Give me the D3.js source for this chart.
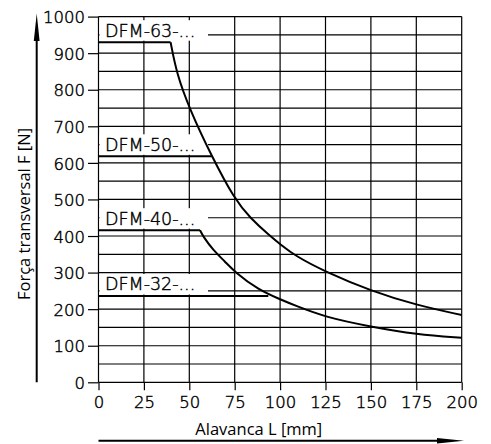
<!DOCTYPE html>
<html>
<head>
<meta charset="utf-8">
<script src="https://cdn.jsdelivr.net/npm/d3@7"></script>
<style>
  html, body { margin: 0; padding: 0; background: #fff; }
  svg { display: block; }
</style>
</head>
<body>
<svg id="chart" width="491" height="444"></svg>
<script>
// ---- data ----
const xTicks = [0, 25, 50, 75, 100, 125, 150, 175, 200];
const yTicks = [0, 100, 200, 300, 400, 500, 600, 700, 800, 900, 1000];
const yGrid = [0, 50, 100, 150, 200, 250, 300, 350, 400, 450, 500, 550, 600, 650, 700, 750, 800, 850, 900, 950, 1000];

const seriesNames = ["DFM-63-...", "DFM-50-...", "DFM-40-...", "DFM-32-..."];

const dfm63L = [0, 39.7, 43, 50, 62.3, 75, 83.4, 94.4, 100, 108.2, 125, 150, 175, 200];
const dfm63F = [930, 930, 845, 749, 618, 500, 450, 400, 378, 346, 302, 250, 211, 184];

const dfm50L = [0, 62.3];
const dfm50F = [618, 618];

const dfm40L = [0, 55.9, 57.7, 63.2, 69.7, 75, 88, 100, 108.2, 125, 150, 175, 200];
const dfm40F = [416, 416, 398, 361, 330, 302, 253, 227, 210, 178, 152, 131, 122];

const dfm32L = [0, 93.5];
const dfm32F = [236, 236];

const xTitle = "Alavanca L [mm]";
const yTitle = "Força transversal F [N]";

// ---- drawing ----
const svg = d3.select("#chart");
const x = d3.scaleLinear().domain([0, 200]).range([98.5, 461.7]);
const y = d3.scaleLinear().domain([0, 1000]).range([382.3, 16.6]);

const tickFont = "'DejaVu Sans', sans-serif";
const tickWeight = 200;
const titleFont = "'Open Sans', sans-serif";

function styleTick(sel, size) {
  sel.attr("font-family", tickFont).attr("font-weight", tickWeight)
    .attr("font-size", size).attr("fill", "#000")
    .attr("stroke", "#000").attr("stroke-width", 0.45);
}

// grid
const g = svg.append("g");
g.selectAll("line.h").data(yGrid).enter().append("line")
  .attr("x1", x(0)).attr("x2", x(200))
  .attr("y1", d => y(d)).attr("y2", d => y(d))
  .attr("stroke", "#000").attr("stroke-width", 1.2);
g.selectAll("line.v").data(xTicks).enter().append("line")
  .attr("y1", y(0)).attr("y2", y(1000))
  .attr("x1", d => x(d)).attr("x2", d => x(d))
  .attr("stroke", "#000").attr("stroke-width", 1.2);

// axes with outward ticks
const yAxis = d3.axisLeft(y).tickValues(yTicks).tickSize(10.5).tickPadding(3).tickFormat(d3.format("d"));
const ya = svg.append("g").attr("transform", `translate(${x(0)},0)`).call(yAxis);
ya.select(".domain").remove();
ya.selectAll("line").attr("stroke", "#000").attr("stroke-width", 1.2);
styleTick(ya.selectAll("text").attr("dy", null).attr("y", 6.2), 16.5);

const xAxis = d3.axisBottom(x).tickValues(xTicks).tickSize(8).tickPadding(0).tickFormat(d3.format("d"));
const xa = svg.append("g").attr("transform", `translate(0,${y(0)})`).call(xAxis);
xa.select(".domain").remove();
xa.selectAll("line").attr("stroke", "#000").attr("stroke-width", 1.2);
styleTick(xa.selectAll("text").attr("dy", null).attr("y", 26), 16.5);

// label boxes (white backgrounds hiding grid behind labels)
const caps = [dfm63F[0], dfm50F[0], dfm40F[0], dfm32F[0]];
svg.append("g").selectAll("rect").data(caps).enter().append("rect")
  .attr("x", x(0) + 1).attr("width", x(60.3) - x(0) - 1)
  .attr("y", d => y(d) - 22).attr("height", 20.5)
  .attr("fill", "#fff");

// curves
function drawSeries(L, F) {
  const pts = L.map((l, i) => [l, F[i]]);
  const lin = d3.line().x(d => x(d[0])).y(d => y(d[1]));
  svg.append("path").attr("d", lin(pts.slice(0, 2)))
    .attr("fill", "none").attr("stroke", "#000").attr("stroke-width", 2);
  if (pts.length > 2) {
    const cur = d3.line().x(d => x(d[0])).y(d => y(d[1])).curve(d3.curveBasis);
    svg.append("path").attr("d", cur(pts.slice(1)))
      .attr("fill", "none").attr("stroke", "#000").attr("stroke-width", 2);
  }
}
drawSeries(dfm63L, dfm63F);
drawSeries(dfm50L, dfm50F);
drawSeries(dfm40L, dfm40F);
drawSeries(dfm32L, dfm32F);

// series labels
styleTick(svg.append("g").selectAll("text").data(seriesNames).enter().append("text")
  .attr("x", x(0) + 6.5).attr("y", (d, i) => y(caps[i]) - 5.5)
  .text(d => d), 17.5);

// axis arrows
svg.append("line").attr("x1", 36.7).attr("x2", 36.7).attr("y1", y(0)).attr("y2", 38)
  .attr("stroke", "#000").attr("stroke-width", 2);
svg.append("path").attr("d", "M36.7,13.5 L39.6,41 L33.8,41 Z").attr("fill", "#000");

svg.append("line").attr("x1", x(0)).attr("x2", 440).attr("y1", 440.7).attr("y2", 440.7)
  .attr("stroke", "#000").attr("stroke-width", 2);
svg.append("path").attr("d", "M464,440.7 L437,437.9 L437,443.5 Z").attr("fill", "#000");

// titles
svg.append("text").attr("x", 258.8).attr("y", 435).attr("text-anchor", "middle")
  .attr("font-family", titleFont).attr("font-size", 16.5).attr("fill", "#000").text(xTitle);
svg.append("text").attr("transform", "translate(30,214) rotate(-90)").attr("text-anchor", "middle")
  .attr("font-family", titleFont).attr("font-size", 16.5).attr("fill", "#000").text(yTitle);
</script>
</body>
</html>
